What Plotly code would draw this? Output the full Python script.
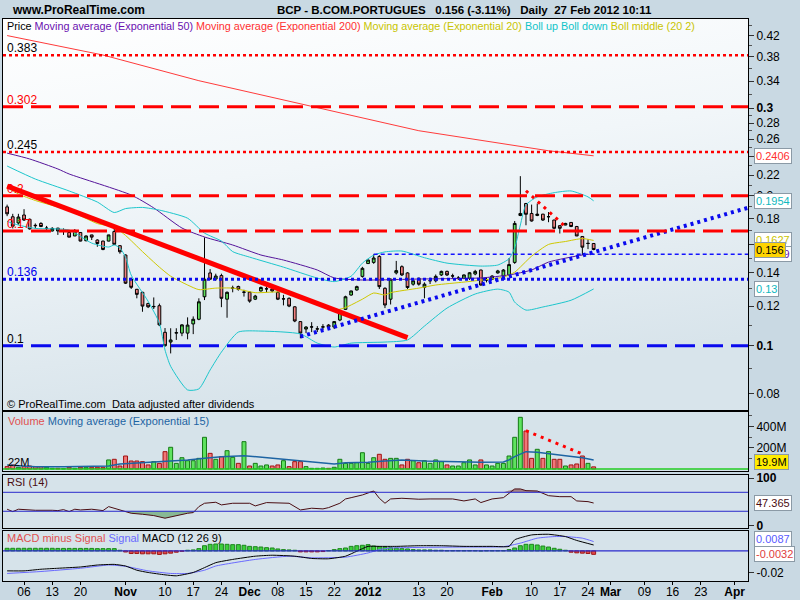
import math
import base64
import pandas as pd
import plotly.graph_objects as go
from plotly.subplots import make_subplots

# ---------------- categories (trading days) ----------------
HOLIDAYS = ["2011-12-26"]
AXIS_DAYS = [d.strftime("%Y-%m-%d") for d in pd.bdate_range("2011-10-03", "2012-04-05")
             if d.strftime("%Y-%m-%d") not in HOLIDAYS]
DATES = AXIS_DAYS[:105]

TICK_DATES = ["2011-10-06", "2011-10-13", "2011-10-20", "2011-11-01", "2011-11-10", "2011-11-17",
              "2011-11-24", "2011-12-01", "2011-12-08", "2011-12-15", "2011-12-22", "2012-01-02",
              "2012-01-13", "2012-01-20", "2012-02-01", "2012-02-10", "2012-02-17", "2012-02-24",
              "2012-03-01", "2012-03-09", "2012-03-16", "2012-03-23", "2012-04-02"]
TICK_LABELS = ["06", "13", "20", "<b>Nov</b>", "10", "17", "24", "<b>Dec</b>", "08", "15", "22",
               "<b>2012</b>", "13", "20", "<b>Feb</b>", "10", "17", "24", "<b>Mar</b>", "09", "16",
               "23", "<b>Apr</b>"]

# ---------------- price data ----------------
OPEN = [0.190, 0.1815, 0.1764, 0.183, 0.1794, 0.1745, 0.176, 0.172, 0.170, 0.1722,
        0.170, 0.1688, 0.1661, 0.1688, 0.1625, 0.1669, 0.163, 0.1622, 0.1622, 0.1695,
        0.1588, 0.1521, 0.1361, 0.1298, 0.128, 0.1215, 0.1197, 0.1203, 0.1064, 0.1017,
        0.106, 0.106, 0.106, 0.1106, 0.113, 0.1254, 0.140, 0.1361, 0.1383, 0.124,
        0.1304, 0.1315, 0.128, 0.1281, 0.124, 0.1288, 0.130, 0.130, 0.128, 0.1241,
        0.1245, 0.1197, 0.1118, 0.108, 0.109, 0.108, 0.109, 0.110, 0.109, 0.1126,
        0.1183, 0.1264, 0.1294, 0.1378, 0.1462, 0.147, 0.1511, 0.1304, 0.124, 0.140,
        0.1441, 0.140, 0.1329, 0.1366, 0.131, 0.135, 0.135, 0.1387, 0.141, 0.138,
        0.1366, 0.1366, 0.1366, 0.1393, 0.1419, 0.1355, 0.136, 0.140, 0.138, 0.1387,
        0.147, 0.1826, 0.193, 0.1843, 0.1826, 0.1837, 0.1815, 0.1788, 0.1742, 0.1747,
        0.1768, 0.1735, 0.1657, 0.1604, 0.1604]
HIGH = [0.192, 0.184, 0.184, 0.188, 0.180, 0.176, 0.177, 0.174, 0.173, 0.1725,
        0.172, 0.169, 0.1715, 0.169, 0.1665, 0.167, 0.1635, 0.1625, 0.167, 0.172,
        0.159, 0.1525, 0.137, 0.130, 0.1283, 0.122, 0.125, 0.1215, 0.1085, 0.1084,
        0.1084, 0.1105, 0.114, 0.1145, 0.1245, 0.165, 0.1425, 0.1395, 0.1395, 0.1285,
        0.132, 0.132, 0.1295, 0.1285, 0.1265, 0.1315, 0.1315, 0.131, 0.1285, 0.1265,
        0.125, 0.120, 0.112, 0.1095, 0.1115, 0.1095, 0.1105, 0.1105, 0.112, 0.118,
        0.126, 0.129, 0.132, 0.144, 0.149, 0.1526, 0.152, 0.131, 0.1365, 0.148,
        0.145, 0.1405, 0.136, 0.137, 0.134, 0.137, 0.139, 0.1415, 0.1415, 0.1395,
        0.138, 0.139, 0.1405, 0.142, 0.142, 0.137, 0.1385, 0.142, 0.1425, 0.150,
        0.178, 0.219, 0.1935, 0.192, 0.193, 0.184, 0.1855, 0.179, 0.1745, 0.1765,
        0.177, 0.174, 0.166, 0.1635, 0.1608]
LOW = [0.182, 0.172, 0.175, 0.178, 0.171, 0.172, 0.173, 0.170, 0.1695, 0.1669,
       0.1669, 0.165, 0.166, 0.162, 0.162, 0.163, 0.158, 0.1555, 0.162, 0.1595,
       0.153, 0.133, 0.130, 0.1245, 0.117, 0.119, 0.1185, 0.1095, 0.0995, 0.0965,
       0.1027, 0.1045, 0.103, 0.1055, 0.1125, 0.1235, 0.1355, 0.135, 0.1195, 0.1138,
       0.128, 0.129, 0.1255, 0.122, 0.1235, 0.1285, 0.128, 0.128, 0.1235, 0.1205,
       0.1195, 0.1115, 0.1035, 0.106, 0.1065, 0.1065, 0.1075, 0.108, 0.108, 0.112,
       0.118, 0.126, 0.129, 0.137, 0.146, 0.146, 0.130, 0.119, 0.121, 0.139,
       0.138, 0.130, 0.132, 0.132, 0.1245, 0.133, 0.134, 0.138, 0.138, 0.1365,
       0.1355, 0.136, 0.1355, 0.1385, 0.132, 0.134, 0.1355, 0.1395, 0.1375, 0.138,
       0.146, 0.182, 0.1745, 0.1775, 0.182, 0.178, 0.177, 0.1715, 0.168, 0.1745,
       0.173, 0.166, 0.1521, 0.1563, 0.1555]
CLOSE = [0.184, 0.1738, 0.1813, 0.1788, 0.1716, 0.1742, 0.1735, 0.1722, 0.172, 0.170,
         0.1702, 0.1652, 0.170, 0.1622, 0.1661, 0.1652, 0.1604, 0.156, 0.1669, 0.1598,
         0.1544, 0.1335, 0.131, 0.1268, 0.1201, 0.1197, 0.1199, 0.1101, 0.100, 0.1027,
         0.1062, 0.1101, 0.110, 0.113, 0.1225, 0.136, 0.136, 0.138, 0.1245, 0.128,
         0.1306, 0.1298, 0.1281, 0.1229, 0.1258, 0.1309, 0.1301, 0.1288, 0.124, 0.1242,
         0.1201, 0.1121, 0.106, 0.109, 0.1091, 0.1081, 0.1091, 0.109, 0.1118, 0.117,
         0.1254, 0.1288, 0.1314, 0.143, 0.1486, 0.150, 0.1314, 0.1207, 0.136, 0.1415,
         0.1387, 0.1309, 0.135, 0.1329, 0.1329, 0.1351, 0.1378, 0.141, 0.1387, 0.1381,
         0.1367, 0.1387, 0.1401, 0.141, 0.1324, 0.1356, 0.138, 0.1413, 0.1419, 0.1455,
         0.176, 0.1843, 0.1836, 0.178, 0.1837, 0.1788, 0.1816, 0.1721, 0.1721, 0.176,
         0.1735, 0.1661, 0.1577, 0.1605, 0.156]
VOLUME_M = [22, 38, 16, 22, 28, 22, 22, 16, 6, 6,
            3, 16, 6, 16, 16, 16, 16, 16, 85, 91,
            28, 122, 75, 75, 69, 38, 69, 53, 163, 204,
            53, 106, 78, 78, 100, 298, 147, 91, 116, 172,
            110, 53, 257, 28, 53, 28, 38, 28, 38, 78,
            22, 69, 69, 22, 6, 6, 9, 6, 16, 91,
            53, 53, 59, 153, 53, 106, 138, 91, 100, 100,
            38, 91, 78, 59, 78, 53, 85, 69, 38, 28,
            28, 59, 85, 38, 85, 38, 28, 53, 53, 122,
            298, 486, 357, 100, 185, 100, 163, 91, 91, 28,
            38, 47, 122, 53, 19.9]

# ---------------- indicators (trading-day number -> value) ----------------
EMA50_DAY = [0, 4, 9, 11, 22, 26, 31, 35, 40, 45, 49, 55, 58, 63, 73, 84, 89, 93, 96, 102, 104]
EMA50_VAL = [0.2436, 0.2371, 0.2264, 0.2212, 0.2007, 0.1891, 0.1723, 0.1653, 0.1593, 0.1521,
             0.1486, 0.1419, 0.1368, 0.1355, 0.1361, 0.1368, 0.1387, 0.1419, 0.1472, 0.1521, 0.1529]
EMA200_DAY = [0, 17, 34, 53, 73, 96, 104]
EMA200_VAL = [0.4195, 0.3834, 0.3405, 0.3044, 0.2702, 0.2463, 0.2406]
EMA20_DAY = [0, 2, 5, 11, 16, 19, 21, 24, 27, 29, 32, 34, 37, 40, 44, 49, 55, 58, 60, 63, 65,
             67, 68, 73, 76, 81, 84, 88, 90, 93, 96, 99, 102, 104]
EMA20_VAL = [0.2083, 0.2016, 0.1957, 0.1868, 0.1759, 0.1731, 0.1665, 0.1545, 0.1438, 0.1379,
             0.1324, 0.1296, 0.1305, 0.1305, 0.1278, 0.1281, 0.1217, 0.1179, 0.1193, 0.1240,
             0.1276, 0.1264, 0.1278, 0.1305, 0.1324, 0.1342, 0.1354, 0.1373, 0.1405, 0.1513,
             0.1597, 0.1619, 0.1641, 0.1627]
BOLL_UP_DAY = [0, 5, 11, 16, 19, 21, 24, 27, 32, 35, 38, 40, 43, 49, 55, 58, 61, 63, 65, 67, 70,
               74, 78, 84, 87, 89, 90, 91, 92, 94, 97, 100, 103, 104]
BOLL_UP_VAL = [0.2295, 0.2161, 0.2045, 0.1943, 0.1851, 0.1885, 0.1895, 0.1872, 0.1803, 0.1683,
               0.1622, 0.1545, 0.1506, 0.1438, 0.1367, 0.1345, 0.1379, 0.1465, 0.1520, 0.1543,
               0.1549, 0.1502, 0.1465, 0.1445, 0.1452, 0.1495, 0.1571, 0.1747, 0.1917, 0.1990,
               0.2029, 0.2045, 0.1990, 0.1954]
BOLL_DN_DAY = [0, 2, 5, 11, 15, 18, 19, 20, 21, 22, 25, 27, 28, 29, 32, 34, 36, 38, 41, 45, 52,
               55, 58, 61, 67, 71, 74, 78, 83, 87, 89, 90, 92, 95, 100, 104]
BOLL_DN_VAL = [0.1776, 0.1747, 0.1720, 0.1707, 0.1607, 0.1578, 0.1593, 0.1571, 0.1506, 0.1386,
               0.1228, 0.1110, 0.0980, 0.0909, 0.0815, 0.0819, 0.0894, 0.0971, 0.1065, 0.1070,
               0.1056, 0.1012, 0.0994, 0.1012, 0.1017, 0.1027, 0.1095, 0.1190, 0.1270, 0.1299,
               0.1281, 0.1223, 0.1179, 0.1196, 0.1234, 0.1300]

VOL_EMA_DAY = [0, 5, 10, 15, 18, 20, 24, 28, 32, 35, 38, 42, 46, 50, 54, 58, 60, 64, 67, 70, 74,
               79, 84, 88, 89, 90, 91, 92, 94, 96, 99, 102, 104]
VOL_EMA_VAL = [38, 22, 22, 22, 28, 47, 59, 78, 85, 100, 116, 125, 106, 85, 63, 47, 59, 63, 75, 85,
               75, 69, 63, 66, 85, 116, 141, 163, 157, 147, 125, 106, 85]

RSI_DAY = [0, 1, 2, 4, 5, 8, 9, 10, 11, 12, 13, 15, 16, 17, 18, 19, 21, 22, 24, 26, 28, 30, 32, 33,
           34, 35, 37, 38, 40, 43, 44, 46, 48, 50, 52, 54, 56, 57, 59, 60, 61, 63, 65, 66, 67, 68,
           70, 73, 75, 77, 79, 81, 83, 84, 86, 88, 90, 91, 92, 94, 96, 98, 100, 101, 103, 104]
RSI_VAL = [34.3, 29.3, 34.3, 32.8, 32.1, 32.1, 31.4, 33.5, 29.3, 34.3, 32.8, 34.3, 33.5, 31.4,
           39.8, 36.4, 30.7, 25.8, 23.7, 20.9, 15.4, 20.9, 25.8, 27.2, 39.8, 46.9, 49.0, 43.4,
           46.9, 46.9, 41.3, 48.3, 46.9, 46.9, 32.8, 36.4, 35.0, 37.7, 46.9, 56.0, 58.7, 64.4,
           72.8, 57.4, 46.9, 56.0, 57.4, 55.4, 56.0, 55.4, 56.0, 51.8, 56.0, 48.3, 56.0, 58.7,
           77.1, 77.1, 73.5, 72.8, 62.9, 60.8, 60.8, 51.8, 50.3, 47.365]

MACD_DAY = [0, 3, 6, 9, 13, 16, 19, 21, 23, 25, 28, 30, 33, 35, 37, 40, 44, 47, 51, 54, 57, 60, 62,
            64, 66, 69, 73, 77, 81, 86, 89, 90, 93, 96, 99, 101, 104]
MACD_VAL = [-0.0185, -0.0185, -0.0170, -0.0161, -0.0149, -0.0131, -0.0125, -0.0140, -0.0179,
            -0.0200, -0.0222, -0.0231, -0.0200, -0.0155, -0.0109, -0.0079, -0.0049, -0.0040,
            -0.0049, -0.0070, -0.0073, -0.0049, -0.0003, 0.0042, 0.0042, 0.0042, 0.0048, 0.0048,
            0.0042, 0.0042, 0.0042, 0.0103, 0.0148, 0.0154, 0.0133, 0.0097, 0.0055]
SIGNAL_DAY = [0, 6, 13, 18, 21, 25, 29, 32, 35, 37, 44, 50, 54, 60, 64, 66, 68, 75, 81, 88, 91, 94,
              97, 99, 102, 104]
SIGNAL_VAL = [-0.0209, -0.0191, -0.0161, -0.0131, -0.0143, -0.0185, -0.0209, -0.0209, -0.0179,
              -0.0140, -0.0079, -0.0049, -0.0064, -0.0058, -0.0019, 0.0012, 0.0027, 0.0033,
              0.0036, 0.0039, 0.0072, 0.0118, 0.0133, 0.0133, 0.0118, 0.0087]
MACD_HIST = [0.0024] * 9 + [0.0023] * 7 + [0.0021] * 4 + [
    0.0006, -0.0010, -0.0024, -0.0024, -0.0027, -0.0027, -0.0027, -0.0033, -0.0027, -0.0021,
    -0.0012, -0.0003, 0.0006, 0.0009, 0.0021, 0.0048, 0.0061, 0.0064, 0.0064, 0.0061,
    0.0058, 0.0058, 0.0052, 0.0042, 0.0039, 0.0036, 0.0030, 0.0027, 0.0018, 0.0012,
    0.0009, 0.0006, -0.0009, -0.0009, -0.0009, -0.0009, -0.0006, 0.0003, 0.0012, 0.0021,
    0.0027, 0.0042, 0.0048, 0.0052, 0.0058, 0.0045, 0.0039, 0.0036, 0.0030, 0.0027,
    0.0021, 0.0018, 0.0012, 0.0009, 0.0009, 0.0009, 0.0006, 0.0006, 0.0003, 0.0003,
    0.0003, 0.0003, 0.0003, 0.0003, 0.0000, 0.0003, 0.0003, 0.0003, 0.0003, 0.0012,
    0.0027, 0.0048, 0.0061, 0.0061, 0.0055, 0.0045, 0.0036, 0.0024, 0.0015, 0.0006,
    -0.0012, -0.0018, -0.0021, -0.0024, -0.0032]

# horizontal levels and drawn trend lines
LEVEL_VALUES = [0.383, 0.302, 0.245, 0.2, 0.17, 0.136, 0.1]
LEVEL_LABELS = ["0.383", "0.302", "0.245", "0.2", "0.17", "0.136", "0.1"]
RESIST_LEVEL = 0.1526
RESIST_START = "2012-01-03"
TREND_DOWN_DATES = ["2011-10-03", "2012-01-11"]
TREND_DOWN_VALS = [0.2092, 0.1038]
TREND_UP_DATES = ["2011-12-14", "2012-04-05"]
TREND_UP_VALS = [0.1043, 0.1901]
TOP_TREND_DATES = ["2012-02-09", "2012-02-20"]
TOP_TREND_VALS = [0.2047, 0.1734]
VOL_TREND_DATES = ["2012-02-09", "2012-02-23"]
VOL_TREND_VALS = [360, 141]

# ---------------- figure ----------------
def d(days):
    return [DATES[i] for i in days]

FONT = "Arial, Liberation Sans, sans-serif"
fig = make_subplots(rows=4, cols=1, shared_xaxes=True, vertical_spacing=0.0)

# price panel
fig.add_trace(go.Scatter(x=d(EMA200_DAY), y=EMA200_VAL, mode="lines", line=dict(color="#ff3b3b", width=1)), 1, 1)
fig.add_trace(go.Scatter(x=d(EMA50_DAY), y=EMA50_VAL, mode="lines", line=dict(color="#55149a", width=1, shape="spline", smoothing=0.6)), 1, 1)
fig.add_trace(go.Scatter(x=d(BOLL_UP_DAY), y=BOLL_UP_VAL, mode="lines", line=dict(color="#1cc6cc", width=1, shape="spline", smoothing=0.6)), 1, 1)
fig.add_trace(go.Scatter(x=d(BOLL_DN_DAY), y=BOLL_DN_VAL, mode="lines", line=dict(color="#1cc6cc", width=1, shape="spline", smoothing=0.6)), 1, 1)
fig.add_trace(go.Scatter(x=d(EMA20_DAY), y=EMA20_VAL, mode="lines", line=dict(color="#cfc800", width=1, shape="spline", smoothing=0.6)), 1, 1)

label_colors = {"0.383": "black", "0.302": "#ff0000", "0.245": "black", "0.2": "#ff0000",
                "0.17": "#ff0000", "0.136": "#0000ee", "0.1": "black"}
fig.add_trace(go.Scatter(x=[DATES[0]] * len(LEVEL_VALUES), y=LEVEL_VALUES, mode="text",
                         text=LEVEL_LABELS, textposition="top right",
                         textfont=dict(size=12, family=FONT, color=[label_colors[t] for t in LEVEL_LABELS])), 1, 1)

fig.add_trace(go.Scatter(x=TREND_DOWN_DATES, y=TREND_DOWN_VALS, mode="lines", line=dict(color="#ff0000", width=5)), 1, 1)
fig.add_trace(go.Scatter(x=TREND_UP_DATES, y=TREND_UP_VALS, mode="lines", line=dict(color="#0a0aee", width=4, dash="3px,4px")), 1, 1)
fig.add_trace(go.Scatter(x=TOP_TREND_DATES, y=TOP_TREND_VALS, mode="lines", line=dict(color="#ff0000", width=3, dash="3px,5px")), 1, 1)

fig.add_trace(go.Candlestick(x=DATES, open=OPEN, high=HIGH, low=LOW, close=CLOSE, whiskerwidth=0,
                             increasing=dict(fillcolor="#5fe05f", line=dict(color="black", width=1)),
                             decreasing=dict(fillcolor="#f08080", line=dict(color="black", width=1))), 1, 1)

# volume panel
vol_colors, vol_lines = [], []
for i in range(len(DATES)):
    if CLOSE[i] > OPEN[i]:
        up = True
    elif CLOSE[i] < OPEN[i]:
        up = False
    else:
        up = i == 0 or CLOSE[i] >= CLOSE[i - 1]
    vol_colors.append("#5fe35f" if up else "#f07878")
    vol_lines.append("#147a14" if up else "#a01010")
fig.add_trace(go.Bar(x=DATES, y=VOLUME_M, marker=dict(color=vol_colors, line=dict(color=vol_lines, width=1))), 2, 1)
fig.add_trace(go.Scatter(x=d(VOL_EMA_DAY), y=VOL_EMA_VAL, mode="lines", line=dict(color="#1d64a3", width=1.5)), 2, 1)
fig.add_trace(go.Scatter(x=VOL_TREND_DATES, y=VOL_TREND_VALS, mode="lines", line=dict(color="#ff0000", width=3, dash="3px,5px")), 2, 1)

# RSI panel
rsi_x = d(RSI_DAY)
fig.add_trace(go.Scatter(x=rsi_x, y=[30] * len(RSI_VAL), mode="lines", line=dict(width=0)), 3, 1)
fig.add_trace(go.Scatter(x=rsi_x, y=[min(v, 30) for v in RSI_VAL], mode="lines", line=dict(width=0),
                         fill="tonexty", fillcolor="rgba(110,170,120,0.75)"), 3, 1)
fig.add_trace(go.Scatter(x=rsi_x, y=[70] * len(RSI_VAL), mode="lines", line=dict(width=0)), 3, 1)
fig.add_trace(go.Scatter(x=rsi_x, y=[max(v, 70) for v in RSI_VAL], mode="lines", line=dict(width=0),
                         fill="tonexty", fillcolor="rgba(150,100,100,0.75)"), 3, 1)
fig.add_trace(go.Scatter(x=rsi_x, y=RSI_VAL, mode="lines", line=dict(color="#4a0d12", width=1)), 3, 1)

# MACD panel
fig.add_trace(go.Bar(x=DATES, y=MACD_HIST,
                     marker=dict(color=["#3ccf3c" if v >= 0 else "#e04848" for v in MACD_HIST],
                                 line=dict(color=["#1c861c" if v >= 0 else "#a01818" for v in MACD_HIST], width=1))), 4, 1)
fig.add_trace(go.Scatter(x=d(SIGNAL_DAY), y=SIGNAL_VAL, mode="lines", line=dict(color="#6a6aff", width=1, shape="spline", smoothing=0.5)), 4, 1)
fig.add_trace(go.Scatter(x=d(MACD_DAY), y=MACD_VAL, mode="lines", line=dict(color="black", width=1, shape="spline", smoothing=0.5)), 4, 1)

# ---------------- layout ----------------
TOP_PX, BOT_PX = 19, 581
H_PX = BOT_PX - TOP_PX


def px_y(ypx):
    return (BOT_PX - ypx) / H_PX


def px_x(xpx):
    return (xpx - 3) / 745


PRICE_DOM = [px_y(410), 1.0]
VOL_DOM = [px_y(471), px_y(412)]
RSI_DOM = [px_y(528), px_y(475)]
MACD_DOM = [0.0, px_y(531)]

xcommon = dict(type="category", categoryorder="array", categoryarray=AXIS_DAYS, range=[-0.73, 131.37],
               showline=True, linecolor="black", linewidth=1, mirror=True, showgrid=False,
               zeroline=False, rangeslider=dict(visible=False), ticks="", automargin=False)
for k in ["xaxis", "xaxis2", "xaxis3", "xaxis4"]:
    fig.layout[k].update(xcommon)
fig.layout.xaxis4.update(tickmode="array", tickvals=TICK_DATES, ticktext=TICK_LABELS, ticks="outside",
                         ticklen=3, tickcolor="black", showticklabels=True, ticklabelstandoff=-3,
                         tickfont=dict(size=12, color="black", family=FONT))

ycommon = dict(side="right", showline=True, linecolor="black", linewidth=1, mirror=True, showgrid=False,
               zeroline=False, ticks="outside", ticklen=5, tickcolor="#333333", automargin=False,
               tickfont=dict(size=12, color="black", family=FONT))
# 0.16 and 0.24 labels sit under the value boxes in the reference, so only their tick marks show
price_ticks = [0.08, 0.1, 0.12, 0.14, 0.16, 0.18, 0.2, 0.22, 0.24, 0.26, 0.28, 0.3, 0.34, 0.38, 0.42]
price_text = ["0.08", "<b>0.1</b>", "0.12", "0.14", "", "0.18", "0.2", "0.22", "", "0.26",
              "0.28", "<b>0.3</b>", "0.34", "0.38", "0.42"]
fig.layout.yaxis.update(ycommon)
fig.layout.yaxis.update(domain=PRICE_DOM, type="log", range=[-1.1291, -0.3440], tickmode="array",
                        tickvals=price_ticks, ticktext=price_text,
                        minor=dict(tickmode="array", ticks="outside", ticklen=3, tickcolor="#555555",
                                   tickvals=[0.09, 0.11, 0.13, 0.15, 0.17, 0.19, 0.21, 0.23, 0.25, 0.27,
                                             0.29, 0.32, 0.36, 0.40, 0.44]))
fig.layout.yaxis2.update(ycommon)
fig.layout.yaxis2.update(domain=VOL_DOM, range=[-19, 536], tickmode="array", tickvals=[200, 400],
                         ticktext=["200M", "400M"],
                         minor=dict(tickmode="array", ticks="outside", ticklen=3, tickcolor="#555555",
                                    tickvals=[100, 300, 500]))
fig.layout.yaxis3.update(ycommon)
fig.layout.yaxis3.update(domain=RSI_DOM, range=[-5.3, 106.5], tickmode="array", tickvals=[0, 100],
                         ticktext=["<b>0</b>", "<b>100</b>"])
fig.layout.yaxis4.update(ycommon)
fig.layout.yaxis4.update(domain=MACD_DOM, range=[-0.0279, 0.01845], tickmode="array",
                         tickvals=[-0.02], ticktext=["-0.02"])

# panel backgrounds
svg = ('<svg xmlns="http://www.w3.org/2000/svg" width="100" height="100" preserveAspectRatio="none">'
       '<defs><linearGradient id="g" x1="0" y1="0" x2="0.25" y2="1">'
       '<stop offset="0" stop-color="#ffffff"/><stop offset="0.45" stop-color="#f1f6f9"/>'
       '<stop offset="1" stop-color="#d8e4eb"/></linearGradient></defs>'
       '<rect width="100" height="100" fill="url(#g)"/></svg>')
src = "data:image/svg+xml;base64," + base64.b64encode(svg.encode()).decode()
fig.add_layout_image(dict(source=src, xref="paper", yref="paper", x=0, y=1, sizex=1,
                          sizey=PRICE_DOM[1] - PRICE_DOM[0], xanchor="left", yanchor="top",
                          sizing="stretch", layer="below"))

shapes = []
for dom in (VOL_DOM, RSI_DOM, MACD_DOM):
    shapes.append(dict(type="rect", xref="paper", yref="paper", x0=0, x1=1, y0=dom[0], y1=dom[1],
                       fillcolor="#d6e3ea", line=dict(width=0), layer="below"))

level_style = {"0.383": ("#ff0000", "3px,3px", 2.5), "0.302": ("#ff0000", "20px,8px", 3),
               "0.245": ("#ff0000", "3px,3px", 2.5), "0.2": ("#ff0000", "20px,8px", 3),
               "0.17": ("#ff0000", "20px,8px", 3), "0.136": ("#0a0aee", "3px,3px", 3),
               "0.1": ("#0a0aee", "20px,8px", 3)}
for v, t in zip(LEVEL_VALUES, LEVEL_LABELS):
    c, dsh, w = level_style[t]
    shapes.append(dict(type="line", xref="x domain", yref="y", x0=0, x1=1, y0=v, y1=v,
                       line=dict(color=c, width=w, dash=dsh), layer="above"))
shapes.append(dict(type="line", xref="x", yref="y", x0=RESIST_START, x1=AXIS_DAYS[-1], y0=RESIST_LEVEL,
                   y1=RESIST_LEVEL, line=dict(color="#1414ff", width=1.5, dash="4px,3px")))
shapes.append(dict(type="line", xref="x domain", yref="y3", x0=0, x1=1, y0=70, y1=70, line=dict(color="#2a2acc", width=1)))
shapes.append(dict(type="line", xref="x domain", yref="y3", x0=0, x1=1, y0=30, y1=30, line=dict(color="#2a2acc", width=1)))
shapes.append(dict(type="line", xref="x domain", yref="y4", x0=0, x1=1, y0=0, y1=0, line=dict(color="#2a2acc", width=1.2)))
shapes.append(dict(type="line", xref="x domain", yref="y2", x0=0, x1=1, y0=0, y1=0, line=dict(color="#22cc22", width=1.5)))


def box(text, yref, y, color, bg="white", yshift=0):
    return dict(xref="paper", yref=yref, x=1.008, y=y, xanchor="left", yanchor="middle", text=text,
                showarrow=False, font=dict(size=11, color=color, family=FONT), bgcolor=bg,
                bordercolor="#8b9aa6", borderwidth=1, borderpad=1, yshift=yshift)


ann = [
    dict(xref="paper", yref="paper", x=px_x(10), y=px_y(10), xanchor="left", yanchor="middle",
         text="<b>www.ProRealTime.com</b>", showarrow=False, font=dict(size=12, color="black", family=FONT)),
    dict(xref="paper", yref="paper", x=px_x(275), y=px_y(10), xanchor="left", yanchor="middle",
         text="<b>BCP - B.COM.PORTUGUES   0.156 (-3.11%)   Daily  27 Feb 2012 10:11</b>",
         showarrow=False, font=dict(size=11.5, color="black", family=FONT)),
    dict(xref="paper", yref="paper", x=px_x(5), y=px_y(26), xanchor="left", yanchor="middle",
         text=("Price <span style='color:#6a10b0'>Moving average (Exponential 50)</span> "
               "<span style='color:#ff3030'>Moving average (Exponential 200)</span> "
               "<span style='color:#c8c400'>Moving average (Exponential 20)</span> "
               "<span style='color:#10c4c8'>Boll up Boll down</span> "
               "<span style='color:#c8c400'>Boll middle (20 2)</span>"),
         showarrow=False, font=dict(size=10.8, color="black", family=FONT)),
    dict(xref="paper", yref="paper", x=px_x(5), y=px_y(404), xanchor="left", yanchor="middle",
         text="© ProRealTime.com  Data adjusted after dividends", showarrow=False,
         font=dict(size=11, color="black", family=FONT)),
    dict(xref="paper", yref="paper", x=px_x(6), y=px_y(421), xanchor="left", yanchor="middle",
         text="<span style='color:#e05050'>Volume</span> Moving average (Exponential 15)", showarrow=False,
         font=dict(size=11, color="#1d64a3", family=FONT)),
    dict(xref="paper", yref="paper", x=px_x(6), y=px_y(462), xanchor="left", yanchor="middle",
         text="22M", showarrow=False, font=dict(size=11, color="black", family=FONT)),
    dict(xref="paper", yref="paper", x=px_x(5), y=px_y(482), xanchor="left", yanchor="middle",
         text="RSI (14)", showarrow=False, font=dict(size=11, color="#4a0d12", family=FONT)),
    dict(xref="paper", yref="paper", x=px_x(5), y=px_y(538), xanchor="left", yanchor="middle",
         text=("<span style='color:#e05050'>MACD minus Signal</span> "
               "<span style='color:#6a6aff'>Signal</span> MACD (12 26 9)"),
         showarrow=False, font=dict(size=11, color="black", family=FONT)),
    box("0.2406", "y", math.log10(EMA200_VAL[-1]), "#ff3030"),
    box("0.1954", "y", math.log10(BOLL_UP_VAL[-1]), "#10b8c0"),
    box("0.13", "y", math.log10(BOLL_DN_VAL[-1]), "#10b8c0"),
    box("0.1627", "y", math.log10(EMA20_VAL[-1]), "#c8c400"),
    box("0.1529", "y", math.log10(EMA50_VAL[-1]), "#6a10b0"),
    box("0.156", "y", math.log10(CLOSE[-1]), "black", bg="#ffd400"),
    box("19.9M", "y2", VOLUME_M[-1], "black", bg="#ffec00", yshift=5),
    box("47.365", "y3", RSI_VAL[-1], "#4a0d12"),
    box("0.0087", "y4", SIGNAL_VAL[-1], "#5a5aff", yshift=3),
    box("-0.0032", "y4", MACD_HIST[-1], "#e04040"),
]

fig.update_layout(width=800, height=600, margin=dict(l=3, r=52, t=TOP_PX, b=600 - BOT_PX, autoexpand=False),
                  paper_bgcolor="#c9d9e3", plot_bgcolor="rgba(0,0,0,0)", showlegend=False,
                  bargap=0.3, font=dict(family=FONT, size=12, color="black"),
                  shapes=shapes, annotations=ann, hovermode=False)

fig.write_html("out.html", config={"displayModeBar": False},
               post_script="document.body.style.margin='0';document.body.style.overflow='hidden';")
